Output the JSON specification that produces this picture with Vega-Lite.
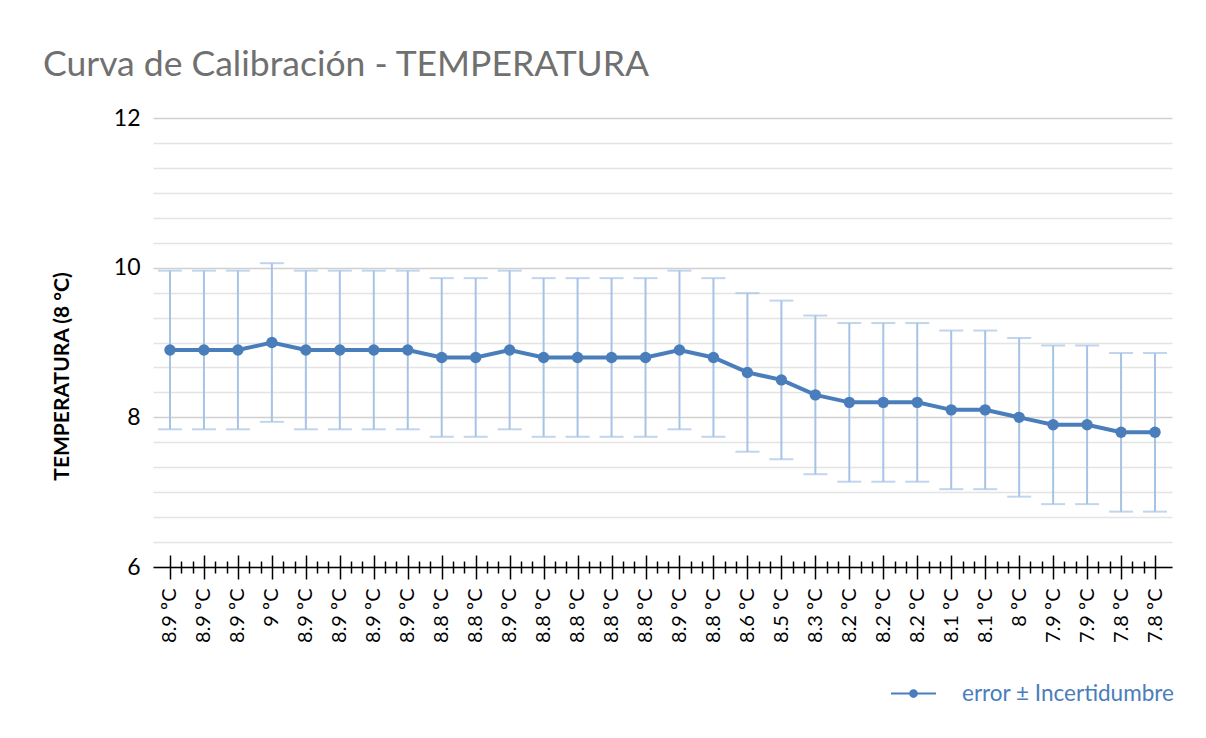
{
  "$schema": "https://vega.github.io/schema/vega-lite/v6.json",
  "width": 1019,
  "height": 449,
  "autosize": "none",
  "padding": {"left": 153, "top": 118, "right": 34, "bottom": 171},
  "background": "white",
  "config": {"font": "Lato", "view": {"stroke": null}},
  "title": {
    "text": "Curva de Calibración - TEMPERATURA",
    "anchor": "start",
    "frame": "group",
    "dx": -110,
    "offset": 24,
    "fontSize": 35.5,
    "font": "Lato",
    "fontWeight": "normal",
    "color": "#707070"
  },
  "data": {
    "values": [
      {"idx": 1, "label": "8.9 ºC", "value": 8.9, "lo": 7.84, "hi": 9.96},
      {"idx": 2, "label": "8.9 ºC", "value": 8.9, "lo": 7.84, "hi": 9.96},
      {"idx": 3, "label": "8.9 ºC", "value": 8.9, "lo": 7.84, "hi": 9.96},
      {"idx": 4, "label": "9 ºC", "value": 9.0, "lo": 7.94, "hi": 10.06},
      {"idx": 5, "label": "8.9 ºC", "value": 8.9, "lo": 7.84, "hi": 9.96},
      {"idx": 6, "label": "8.9 ºC", "value": 8.9, "lo": 7.84, "hi": 9.96},
      {"idx": 7, "label": "8.9 ºC", "value": 8.9, "lo": 7.84, "hi": 9.96},
      {"idx": 8, "label": "8.9 ºC", "value": 8.9, "lo": 7.84, "hi": 9.96},
      {"idx": 9, "label": "8.8 ºC", "value": 8.8, "lo": 7.74, "hi": 9.86},
      {"idx": 10, "label": "8.8 ºC", "value": 8.8, "lo": 7.74, "hi": 9.86},
      {"idx": 11, "label": "8.9 ºC", "value": 8.9, "lo": 7.84, "hi": 9.96},
      {"idx": 12, "label": "8.8 ºC", "value": 8.8, "lo": 7.74, "hi": 9.86},
      {"idx": 13, "label": "8.8 ºC", "value": 8.8, "lo": 7.74, "hi": 9.86},
      {"idx": 14, "label": "8.8 ºC", "value": 8.8, "lo": 7.74, "hi": 9.86},
      {"idx": 15, "label": "8.8 ºC", "value": 8.8, "lo": 7.74, "hi": 9.86},
      {"idx": 16, "label": "8.9 ºC", "value": 8.9, "lo": 7.84, "hi": 9.96},
      {"idx": 17, "label": "8.8 ºC", "value": 8.8, "lo": 7.74, "hi": 9.86},
      {"idx": 18, "label": "8.6 ºC", "value": 8.6, "lo": 7.54, "hi": 9.66},
      {"idx": 19, "label": "8.5 ºC", "value": 8.5, "lo": 7.44, "hi": 9.56},
      {"idx": 20, "label": "8.3 ºC", "value": 8.3, "lo": 7.24, "hi": 9.36},
      {"idx": 21, "label": "8.2 ºC", "value": 8.2, "lo": 7.14, "hi": 9.26},
      {"idx": 22, "label": "8.2 ºC", "value": 8.2, "lo": 7.14, "hi": 9.26},
      {"idx": 23, "label": "8.2 ºC", "value": 8.2, "lo": 7.14, "hi": 9.26},
      {"idx": 24, "label": "8.1 ºC", "value": 8.1, "lo": 7.04, "hi": 9.16},
      {"idx": 25, "label": "8.1 ºC", "value": 8.1, "lo": 7.04, "hi": 9.16},
      {"idx": 26, "label": "8 ºC", "value": 8.0, "lo": 6.94, "hi": 9.06},
      {"idx": 27, "label": "7.9 ºC", "value": 7.9, "lo": 6.84, "hi": 8.96},
      {"idx": 28, "label": "7.9 ºC", "value": 7.9, "lo": 6.84, "hi": 8.96},
      {"idx": 29, "label": "7.8 ºC", "value": 7.8, "lo": 6.74, "hi": 8.86},
      {"idx": 30, "label": "7.8 ºC", "value": 7.8, "lo": 6.74, "hi": 8.86}
    ]
  },
  "transform": [{"calculate": "datum.idx + '|' + datum.label", "as": "key"}],
  "layer": [
    {
      "encoding": {
        "x": {
          "field": "key",
          "type": "ordinal",
          "sort": {"field": "idx"},
          "scale": {"type": "point", "padding": 0.5},
          "axis": {
            "orient": "bottom",
            "title": null,
            "domainColor": "#000000",
            "domainWidth": 1.5,
            "ticks": false,
            "tickSize": 0,
            "labelAngle": -90,
            "labelAlign": "right",
            "labelBaseline": "middle",
            "labelPadding": 21,
            "labelExpr": "split(datum.value, '|')[1]",
            "labelFontSize": 20,
            "labelFont": "Lato",
            "labelColor": "#000000",
            "labelOverlap": false
          }
        }
      },
      "layer": [
        {
          "mark": {"type": "rule", "color": "#a6c3e6", "strokeWidth": 2},
          "encoding": {
            "y": {
              "field": "lo",
              "type": "quantitative",
              "scale": {"domain": [6, 12], "nice": false, "zero": false},
              "axis": {
                "title": "TEMPERATURA (8 °C)",
                "titleFontSize": 21,
                "titleFont": "Lato",
                "titleFontWeight": "bold",
                "titleColor": "#000000",
                "titlePadding": 41,
                "titleY": 258,
                "tickCount": 200,
                "values": [6, 6.3333, 6.6667, 7, 7.3333, 7.6667, 8, 8.3333, 8.6667, 9, 9.3333, 9.6667, 10, 10.3333, 10.6667, 11, 11.3333, 11.6667, 12],
                "labelExpr": "abs(datum.value - round(datum.value)) < 0.01 && round(datum.value) % 2 == 0 ? format(datum.value, 'd') : ''",
                "labelFontSize": 23,
                "labelFont": "Lato",
                "labelColor": "#000000",
                "labelPadding": 13,
                "labelOverlap": false,
                "ticks": false,
                "domain": false,
                "grid": true,
                "gridWidth": 1.5,
                "gridColor": {
                  "condition": {"test": "abs(datum.value - round(datum.value)) < 0.01 && round(datum.value) % 2 == 0", "value": "#d0d0d0"},
                  "value": "#e4e4e4"
                }
              }
            },
            "y2": {"field": "hi"}
          }
        },
        {
          "mark": {"type": "tick", "color": "#a6c3e6", "size": 24, "thickness": 2},
          "encoding": {"y": {"field": "lo", "type": "quantitative"}}
        },
        {
          "mark": {"type": "tick", "color": "#a6c3e6", "size": 24, "thickness": 2},
          "encoding": {"y": {"field": "hi", "type": "quantitative"}}
        },
        {
          "mark": {"type": "line", "strokeWidth": 4, "point": {"filled": true, "size": 130}},
          "encoding": {
            "y": {"field": "value", "type": "quantitative"},
            "color": {
              "datum": "error ± Incertidumbre",
              "scale": {"range": ["#4a7ebb"]},
              "legend": {
                "title": null,
                "orient": "none",
                "legendX": 737,
                "legendY": 552,
                "symbolType": "M-1,0H1M0.15,0A0.15,0.15,0,1,1,-0.15,0A0.15,0.15,0,1,1,0.15,0",
                "symbolSize": 2025,
                "symbolStrokeWidth": 2,
                "symbolStrokeColor": "#4a7ebb",
                "symbolFillColor": "#4a7ebb",
                "labelFontSize": 22.5,
                "labelFont": "Lato",
                "labelColor": "#4a7ebb",
                "labelLimit": 0,
                "labelOffset": 25,
                "encode": {"symbols": {"update": {"fill": {"value": "#4a7ebb"}, "stroke": {"value": "#4a7ebb"}, "strokeWidth": {"value": 2}}}}
              }
            }
          }
        }
      ]
    },
    {
      "mark": {"type": "rule", "opacity": 0},
      "encoding": {
        "x": {
          "field": "idx",
          "type": "quantitative",
          "scale": {"domain": [0.5, 30.5], "nice": false, "zero": false},
          "axis": {
            "orient": "bottom",
            "title": null,
            "labels": false,
            "domain": false,
            "grid": false,
            "tickColor": "#000000",
            "tickWidth": 1.5,
            "tickCount": 500,
            "values": [1, 1.3333, 1.6667, 2, 2.3333, 2.6667, 3, 3.3333, 3.6667, 4, 4.3333, 4.6667, 5, 5.3333, 5.6667, 6, 6.3333, 6.6667, 7, 7.3333, 7.6667, 8, 8.3333, 8.6667, 9, 9.3333, 9.6667, 10, 10.3333, 10.6667, 11, 11.3333, 11.6667, 12, 12.3333, 12.6667, 13, 13.3333, 13.6667, 14, 14.3333, 14.6667, 15, 15.3333, 15.6667, 16, 16.3333, 16.6667, 17, 17.3333, 17.6667, 18, 18.3333, 18.6667, 19, 19.3333, 19.6667, 20, 20.3333, 20.6667, 21, 21.3333, 21.6667, 22, 22.3333, 22.6667, 23, 23.3333, 23.6667, 24, 24.3333, 24.6667, 25, 25.3333, 25.6667, 26, 26.3333, 26.6667, 27, 27.3333, 27.6667, 28, 28.3333, 28.6667, 29, 29.3333, 29.6667, 30],
            "tickSize": {"condition": {"test": "abs(datum.value - round(datum.value)) < 0.01", "value": -12}, "value": -6}
          }
        }
      }
    },
    {
      "mark": {"type": "rule", "opacity": 0},
      "encoding": {
        "x": {
          "field": "idx",
          "type": "quantitative",
          "scale": {"domain": [0.5, 30.5], "nice": false, "zero": false},
          "axis": {
            "orient": "bottom",
            "title": null,
            "labels": false,
            "domain": false,
            "grid": false,
            "tickColor": "#000000",
            "tickWidth": 1.5,
            "tickCount": 500,
            "values": [1, 1.3333, 1.6667, 2, 2.3333, 2.6667, 3, 3.3333, 3.6667, 4, 4.3333, 4.6667, 5, 5.3333, 5.6667, 6, 6.3333, 6.6667, 7, 7.3333, 7.6667, 8, 8.3333, 8.6667, 9, 9.3333, 9.6667, 10, 10.3333, 10.6667, 11, 11.3333, 11.6667, 12, 12.3333, 12.6667, 13, 13.3333, 13.6667, 14, 14.3333, 14.6667, 15, 15.3333, 15.6667, 16, 16.3333, 16.6667, 17, 17.3333, 17.6667, 18, 18.3333, 18.6667, 19, 19.3333, 19.6667, 20, 20.3333, 20.6667, 21, 21.3333, 21.6667, 22, 22.3333, 22.6667, 23, 23.3333, 23.6667, 24, 24.3333, 24.6667, 25, 25.3333, 25.6667, 26, 26.3333, 26.6667, 27, 27.3333, 27.6667, 28, 28.3333, 28.6667, 29, 29.3333, 29.6667, 30],
            "tickSize": {"condition": {"test": "abs(datum.value - round(datum.value)) < 0.01", "value": 12}, "value": 6}
          }
        }
      }
    }
  ],
  "resolve": {"scale": {"x": "independent"}, "axis": {"x": "independent"}}
}
